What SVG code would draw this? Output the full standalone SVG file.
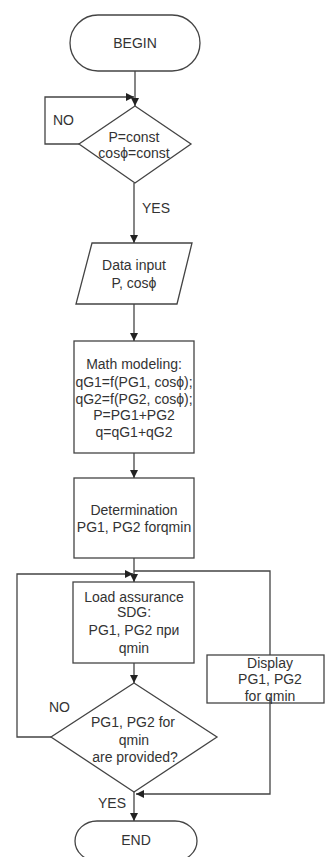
<svg xmlns="http://www.w3.org/2000/svg" width="325" height="857" viewBox="0 0 325 857">
<style>
.s{fill:#fff;stroke:#444;stroke-width:1.3}
.c{fill:none;stroke:#444;stroke-width:1.3}
text{font-family:"Liberation Sans",Arial,sans-serif;font-size:14px;fill:#333;text-anchor:middle}
.l{text-anchor:start}
</style>
<defs>
<marker id="a" viewBox="0 0 10 10" refX="10" refY="5" markerWidth="9" markerHeight="8" markerUnits="userSpaceOnUse" orient="auto">
<path d="M0,0 L10,5 L0,10 z" fill="#222"/>
</marker>
</defs>
<rect width="325" height="857" fill="#fff"/>
<g id="begin">
<rect class="s" x="70" y="15" width="130" height="56" rx="28"/>
<text x="135" y="48">BEGIN</text>
</g>
<g id="check1">
<polygon class="s" points="135,106 191,144 135,183 79,144"/>
<text x="134" y="142">P=const</text>
<text x="134" y="158">cosϕ=const</text>
<text class="l" x="53" y="125">NO</text>
<text class="l" x="142" y="213">YES</text>
</g>
<g id="input">
<polygon class="s" points="92,243 192,243 177,304 76,304"/>
<text x="134" y="270">Data input</text>
<text x="134" y="288">P, cosϕ</text>
</g>
<g id="model">
<rect class="s" x="74" y="341" width="120" height="112"/>
<text x="134" y="369">Math modeling:</text>
<text x="134" y="387">qG1=f(PG1, cosϕ);</text>
<text x="134" y="404">qG2=f(PG2, cosϕ);</text>
<text x="134" y="420">P=PG1+PG2</text>
<text x="134" y="437">q=qG1+qG2</text>
</g>
<g id="determ">
<rect class="s" x="74" y="478" width="120" height="80"/>
<text x="134" y="515">Determination</text>
<text x="134" y="532">PG1, PG2 forqmin</text>
</g>
<g id="load">
<rect class="s" x="73" y="582" width="121" height="81"/>
<text x="134" y="602">Load assurance</text>
<text x="134" y="617">SDG:</text>
<text x="134" y="635">PG1, PG2 при</text>
<text x="134" y="653">qmin</text>
</g>
<g id="display">
<rect class="s" x="207" y="655" width="117" height="48"/>
<text x="270" y="668">Display</text>
<text x="270" y="684">PG1, PG2</text>
<text x="270" y="701">for qmin</text>
</g>
<g id="check2">
<polygon class="s" points="134,683 217,737 134,792 51,737"/>
<text x="133" y="727">PG1, PG2 for</text>
<text x="134" y="745">qmin</text>
<text x="135" y="762">are provided?</text>
<text class="l" x="49" y="712">NO</text>
<text class="l" x="98" y="808">YES</text>
</g>
<g id="end">
<rect class="s" x="75" y="821" width="122" height="40" rx="22"/>
<text x="136" y="845">END</text>
</g>
<g id="connectors">
<path class="c" d="M135,71 V106" marker-end="url(#a)"/>
<path class="c" d="M79,144 H45 V97 H134" marker-end="url(#a)"/>
<path class="c" d="M134,183 V243" marker-end="url(#a)"/>
<path class="c" d="M134,304 V341" marker-end="url(#a)"/>
<path class="c" d="M134,453 V478" marker-end="url(#a)"/>
<path class="c" d="M134,558 V582" marker-end="url(#a)"/>
<path class="c" d="M51,737 H17 V574 H133" marker-end="url(#a)"/>
<path class="c" d="M134,571 H270 V655"/>
<path class="c" d="M270,697 V794 H136" marker-end="url(#a)"/>
<path class="c" d="M134,663 V683" marker-end="url(#a)"/>
<path class="c" d="M134,792 V821" marker-end="url(#a)"/>
</g>
</svg>
